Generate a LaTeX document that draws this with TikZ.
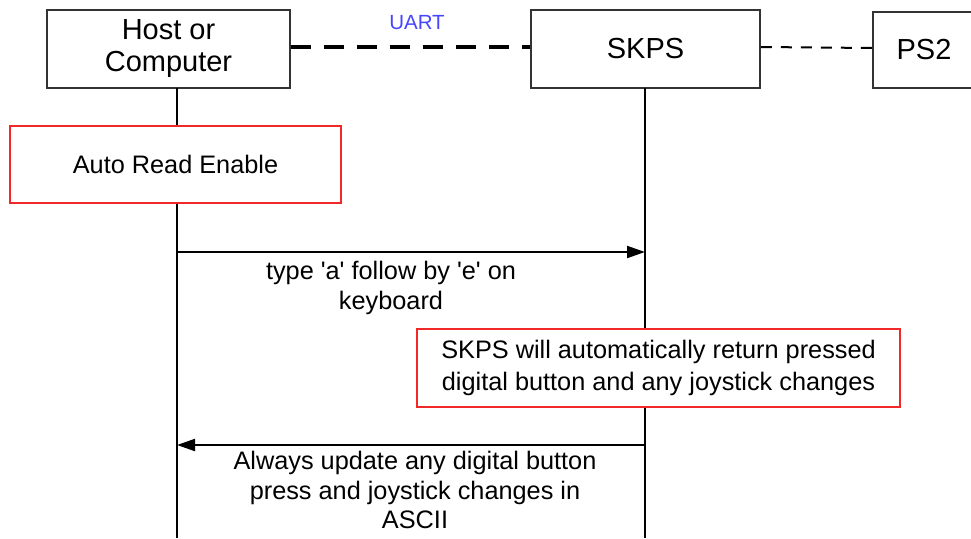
\documentclass[tikz,border=0pt]{standalone}
\usepackage{fontspec}
\setmainfont{Liberation Sans}
\usetikzlibrary{arrows.meta}
\definecolor{uartblue}{RGB}{70,70,255}
\definecolor{notered}{RGB}{240,40,40}
\begin{document}
\begin{tikzpicture}[x=1pt,y=-1pt,
  actor/.style={draw=black!80,line width=1.5pt,fill=white,minimum height=78pt,inner sep=0pt,align=center,font=\fontsize{29}{32}\selectfont},
  note/.style={draw=notered,line width=1.5pt,fill=white,inner sep=0pt,align=center,font=\fontsize{25.3}{32.5}\selectfont},
  msg/.style={line width=2pt,-{Triangle[length=18pt,width=12pt]}},
  lbl/.style={inner sep=0pt,align=center,anchor=north,font=\fontsize{25.3}{29.5}\selectfont}]
\clip (0,0) rectangle (971,538);
\node[actor,minimum width=243pt] (host) at (168.5,49) {Host or\\Computer};
\node[actor,minimum width=229pt] (skps) at (645.5,49) {SKPS};
\node[actor,minimum width=102pt,minimum height=76pt] (ps2) at (924,50) {PS2};
\draw[line width=4pt,dash pattern=on 20pt off 13pt] ([yshift=2pt]host.east) -- ([yshift=2pt]skps.west);
\draw[line width=2pt,dash pattern=on 11pt off 9pt] ([yshift=2pt]skps.east) -- ([yshift=2pt]ps2.west);
\node[text=uartblue,font=\fontsize{20.5}{24}\selectfont] (uart) at (417,23) {UART};
\coordinate (h0) at (177,88); \coordinate (h1) at (177,538);
\coordinate (s0) at (645,88); \coordinate (s1) at (645,538);
\draw[line width=2pt] (h0) -- (h1);
\draw[line width=2pt] (s0) -- (s1);
\node[note,minimum width=331pt,minimum height=77pt] (autoread) at (175.5,164.5) {Auto Read Enable};
\coordinate (h2) at (177,252); \coordinate (s2) at (645,252);
\draw[msg] (h2) -- (s2);
\node[lbl] (typelbl) at (391,261) {type \textquotesingle a\textquotesingle{} follow by \textquotesingle e\textquotesingle{} on\\keyboard};
\node[note,minimum width=483pt,minimum height=78pt] (autoret) at (658.5,368) {SKPS will automatically return pressed\\digital button and any joystick changes};
\coordinate (s3) at (645,445); \coordinate (h3) at (177,445);
\draw[msg] (s3) -- (h3);
\node[lbl] (updlbl) at (415,451) {Always update any digital button\\press and joystick changes in\\ASCII};
\end{tikzpicture}
\end{document}
